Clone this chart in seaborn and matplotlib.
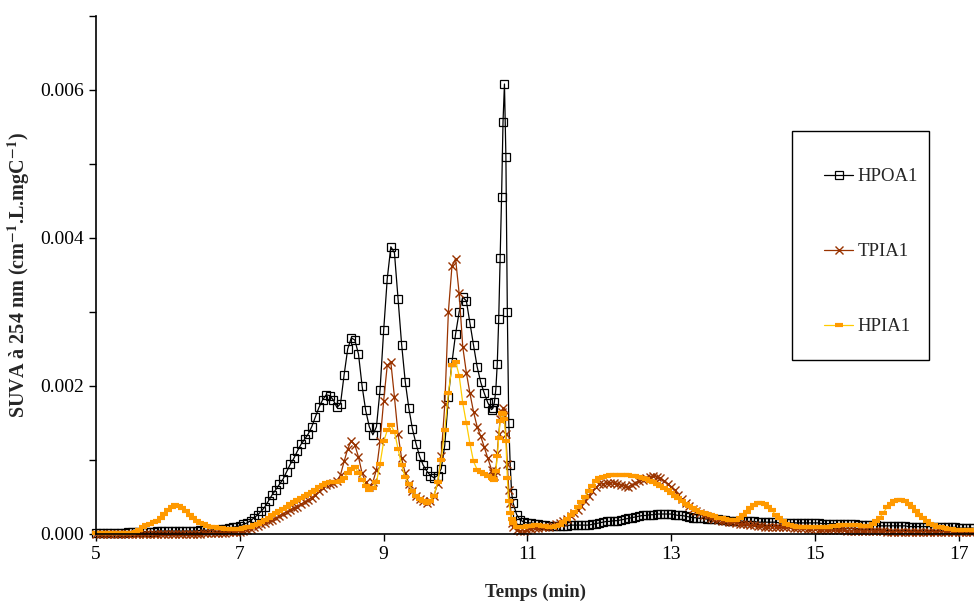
import numpy as np
import pandas as pd
import seaborn as sns
import matplotlib.pyplot as plt
from matplotlib.patches import Rectangle
from matplotlib.ticker import FormatStrFormatter

# sampling times (min)
time_min = [
    5.00, 5.05, 5.10, 5.15, 5.20, 5.25, 5.30, 5.35, 5.40, 5.45,
    5.50, 5.55, 5.60, 5.65, 5.70, 5.75, 5.80, 5.85, 5.90, 5.95,
    6.00, 6.05, 6.10, 6.15, 6.20, 6.25, 6.30, 6.35, 6.40, 6.45,
    6.50, 6.55, 6.60, 6.65, 6.70, 6.75, 6.80, 6.85, 6.90, 6.95,
    7.00, 7.05, 7.10, 7.15, 7.20, 7.25, 7.30, 7.35, 7.40, 7.45,
    7.50, 7.55, 7.60, 7.65, 7.70, 7.75, 7.80, 7.85, 7.90, 7.95,
    8.00, 8.05, 8.10, 8.15, 8.20, 8.25, 8.30, 8.35, 8.40, 8.45,
    8.50, 8.55, 8.60, 8.65, 8.70, 8.75, 8.80, 8.85, 8.90, 8.95,
    9.00, 9.05, 9.10, 9.15, 9.20, 9.25, 9.30, 9.35, 9.40, 9.45,
    9.50, 9.55, 9.60, 9.65, 9.70, 9.75, 9.80, 9.85, 9.90, 9.95,
    10.00, 10.05, 10.10, 10.15, 10.20, 10.25, 10.30, 10.35, 10.40, 10.45,
    10.50,
    10.52, 10.54, 10.56, 10.58, 10.60, 10.62, 10.64, 10.66, 10.68, 10.70,
    10.72, 10.74, 10.76, 10.78, 10.80,
    10.85, 10.90, 10.95, 11.00,
    11.05, 11.10, 11.15, 11.20, 11.25, 11.30, 11.35, 11.40, 11.45, 11.50,
    11.55, 11.60, 11.65, 11.70, 11.75, 11.80, 11.85, 11.90, 11.95, 12.00,
    12.05, 12.10, 12.15, 12.20, 12.25, 12.30, 12.35, 12.40, 12.45, 12.50,
    12.55, 12.60, 12.65, 12.70, 12.75, 12.80, 12.85, 12.90, 12.95, 13.00,
    13.05, 13.10, 13.15, 13.20, 13.25, 13.30, 13.35, 13.40, 13.45, 13.50,
    13.55, 13.60, 13.65, 13.70, 13.75, 13.80, 13.85, 13.90, 13.95, 14.00,
    14.05, 14.10, 14.15, 14.20, 14.25, 14.30, 14.35, 14.40, 14.45, 14.50,
    14.55, 14.60, 14.65, 14.70, 14.75, 14.80, 14.85, 14.90, 14.95, 15.00,
    15.05, 15.10, 15.15, 15.20, 15.25, 15.30, 15.35, 15.40, 15.45, 15.50,
    15.55, 15.60, 15.65, 15.70, 15.75, 15.80, 15.85, 15.90, 15.95, 16.00,
    16.05, 16.10, 16.15, 16.20, 16.25, 16.30, 16.35, 16.40, 16.45, 16.50,
    16.55, 16.60, 16.65, 16.70, 16.75, 16.80, 16.85, 16.90, 16.95, 17.00,
    17.05, 17.10, 17.15, 17.20,
]

hpoa1 = [
    0.00002, 0.00002, 0.00002, 0.00002, 0.00002, 0.00002, 0.00002, 0.00002, 0.00002, 0.00003,
    0.00003, 0.00003, 0.00003, 0.00003, 0.00003, 0.00003, 0.00003, 0.00004, 0.00004, 0.00004,
    0.00004, 0.00004, 0.00004, 0.00004, 0.00004, 0.00004, 0.00004, 0.00004, 0.00004, 0.00005,
    0.00005, 0.00005, 0.00005, 0.00006, 0.00006, 0.00007, 0.00007, 0.00008, 0.00009, 0.00010,
    0.00011, 0.00013, 0.00015, 0.00018, 0.00022, 0.00026, 0.00031, 0.00037, 0.00045, 0.00053,
    0.00060, 0.00067, 0.00074, 0.00084, 0.00094, 0.00102, 0.00112, 0.00121, 0.00128, 0.00135,
    0.00145, 0.00158, 0.00171, 0.00181, 0.00188, 0.00187, 0.00181, 0.00171, 0.00176, 0.00215,
    0.00250, 0.00265, 0.00262, 0.00243, 0.00200, 0.00167, 0.00145, 0.00134, 0.00145, 0.00195,
    0.00275, 0.00345, 0.00388, 0.00380, 0.00318, 0.00256, 0.00206, 0.00170, 0.00142, 0.00122,
    0.00105, 0.00093, 0.00085, 0.00079, 0.00076, 0.00079, 0.00088, 0.00120, 0.00185, 0.00232,
    0.00270, 0.00300, 0.00320, 0.00315, 0.00285, 0.00255, 0.00226, 0.00205, 0.00190, 0.00177,
    0.00168,
    0.00170, 0.00178, 0.00195, 0.00230, 0.00290, 0.00373, 0.00456, 0.00557, 0.00608, 0.00510,
    0.00300, 0.00150, 0.00093, 0.00055, 0.00042,
    0.00026, 0.00019, 0.00016, 0.00015,
    0.00015, 0.00014, 0.00013, 0.00012, 0.00012, 0.00011, 0.00011, 0.00011, 0.00011, 0.00011,
    0.00011, 0.00012, 0.00012, 0.00012, 0.00012, 0.00012, 0.00012, 0.00013, 0.00014, 0.00015,
    0.00016, 0.00017, 0.00017, 0.00018, 0.00018, 0.00019, 0.00020, 0.00021, 0.00022, 0.00023,
    0.00024, 0.00025, 0.00025, 0.00026, 0.00026, 0.00027, 0.00027, 0.00027, 0.00027, 0.00027,
    0.00026, 0.00025, 0.00025, 0.00024, 0.00023, 0.00022, 0.00022, 0.00021, 0.00021, 0.00020,
    0.00020, 0.00020, 0.00020, 0.00019, 0.00019, 0.00018, 0.00018, 0.00018, 0.00018, 0.00017,
    0.00017, 0.00017, 0.00017, 0.00016, 0.00016, 0.00016, 0.00016, 0.00016, 0.00016, 0.00015,
    0.00015, 0.00015, 0.00015, 0.00015, 0.00015, 0.00015, 0.00015, 0.00015, 0.00015, 0.00015,
    0.00015, 0.00014, 0.00014, 0.00014, 0.00014, 0.00014, 0.00013, 0.00013, 0.00013, 0.00013,
    0.00013, 0.00012, 0.00012, 0.00012, 0.00012, 0.00012, 0.00012, 0.00011, 0.00011, 0.00011,
    0.00011, 0.00011, 0.00011, 0.00011, 0.00011, 0.00010, 0.00010, 0.00010, 0.00010, 0.00010,
    0.00010, 0.00010, 0.00010, 0.00009, 0.00009, 0.00009, 0.00009, 0.00009, 0.00009, 0.00008,
    0.00008, 0.00008, 0.00008, 0.00008,
]

tpia1 = [
    0.0, 0.0, 0.0, 0.0, 0.0, 0.0, 0.0, 0.0, 0.0, 0.0,
    0.0, 0.0, 0.0, 0.0, 0.0, 0.0, 0.0, 0.0, 0.0, 0.0,
    0.0, 0.0, 0.0, 0.0, 0.0, 0.0, 0.0, 0.0, 0.0, 0.0,
    0.00001, 0.00001, 0.00001, 0.00001, 0.00002, 0.00002, 0.00002, 0.00003, 0.00003, 0.00003,
    0.00003, 0.00004, 0.00005, 0.00007, 0.00009, 0.00011, 0.00013, 0.00015, 0.00017, 0.00019,
    0.00021, 0.00024, 0.00027, 0.00030, 0.00032, 0.00035, 0.00037, 0.00040, 0.00043, 0.00046,
    0.00049, 0.00053, 0.00058, 0.00062, 0.00066, 0.00068, 0.00069, 0.00071, 0.00080, 0.00098,
    0.00115, 0.00126, 0.00120, 0.00104, 0.00082, 0.00070, 0.00064, 0.00070, 0.00087, 0.00125,
    0.00180, 0.00228, 0.00232, 0.00185, 0.00135, 0.00102, 0.00082, 0.00068, 0.00058, 0.00051,
    0.00047, 0.00044, 0.00042, 0.00045, 0.00052, 0.00068, 0.00105, 0.00175, 0.00300, 0.00362,
    0.00372, 0.00325, 0.00253, 0.00218, 0.00190, 0.00165, 0.00145, 0.00132, 0.00117, 0.00102,
    0.00087,
    0.00082, 0.00078, 0.00085, 0.00110, 0.00135, 0.00155, 0.00165, 0.00170, 0.00160, 0.00135,
    0.00095, 0.00060, 0.00042, 0.00015, 0.00010,
    0.00005, 0.00004, 0.00004, 0.00005,
    0.00007, 0.00008, 0.00008, 0.00009, 0.00009, 0.00010, 0.00011, 0.00013, 0.00015, 0.00017,
    0.00020, 0.00024, 0.00028, 0.00032, 0.00038, 0.00044, 0.00051, 0.00058, 0.00063, 0.00067,
    0.00068, 0.00069, 0.00069, 0.00069, 0.00068, 0.00066, 0.00065, 0.00064, 0.00066, 0.00069,
    0.00071, 0.00073, 0.00075, 0.00077, 0.00078, 0.00077, 0.00075, 0.00072, 0.00068, 0.00064,
    0.00059, 0.00053, 0.00047, 0.00042, 0.00038, 0.00034, 0.00031, 0.00028, 0.00026, 0.00024,
    0.00022, 0.00020, 0.00019, 0.00018, 0.00017, 0.00016, 0.00016, 0.00015, 0.00014, 0.00013,
    0.00013, 0.00012, 0.00012, 0.00011, 0.00011, 0.00010, 0.00010, 0.00010, 0.00010, 0.00009,
    0.00009, 0.00009, 0.00009, 0.00008, 0.00008, 0.00008, 0.00008, 0.00007, 0.00007, 0.00007,
    0.00006, 0.00006, 0.00005, 0.00005, 0.00005, 0.00005, 0.00005, 0.00005, 0.00004, 0.00004,
    0.00004, 0.00004, 0.00004, 0.00004, 0.00004, 0.00004, 0.00004, 0.00004, 0.00004, 0.00003,
    0.00003, 0.00003, 0.00003, 0.00003, 0.00003, 0.00003, 0.00003, 0.00003, 0.00003, 0.00003,
    0.00003, 0.00003, 0.00003, 0.00003, 0.00003, 0.00003, 0.00003, 0.00003, 0.00003, 0.00003,
    0.00003, 0.00003, 0.00003, 0.00003,
]

hpia1 = [
    0.00001, 0.00001, 0.00001, 0.00001, 0.00001, 0.00001, 0.00001, 0.00001, 0.00001, 0.00001,
    0.00001, 0.00003, 0.00006, 0.00009, 0.00012, 0.00014, 0.00016, 0.00018, 0.00022, 0.00027,
    0.00033, 0.00037, 0.00039, 0.00038, 0.00035, 0.00031, 0.00026, 0.00022, 0.00018, 0.00015,
    0.00013, 0.00011, 0.00010, 0.00009, 0.00008, 0.00008, 0.00007, 0.00007, 0.00007, 0.00007,
    0.00007, 0.00008, 0.00009, 0.00010, 0.00012, 0.00014, 0.00016, 0.00019, 0.00022, 0.00025,
    0.00028, 0.00031, 0.00034, 0.00037, 0.00040, 0.00043, 0.00046, 0.00049, 0.00051, 0.00054,
    0.00057, 0.00060, 0.00063, 0.00066, 0.00069, 0.00070, 0.00070, 0.00070, 0.00071, 0.00076,
    0.00082, 0.00088, 0.00090, 0.00083, 0.00073, 0.00065, 0.00060, 0.00062, 0.00070, 0.00095,
    0.00125, 0.00140, 0.00147, 0.00138, 0.00115, 0.00093, 0.00077, 0.00067, 0.00058, 0.00051,
    0.00047, 0.00044, 0.00042, 0.00045, 0.00052, 0.00070, 0.00100, 0.00140, 0.00190, 0.00228,
    0.00233, 0.00214, 0.00177, 0.00150, 0.00122, 0.00098, 0.00087, 0.00084, 0.00081, 0.00078,
    0.00076,
    0.00074, 0.00073, 0.00085, 0.00105, 0.00130, 0.00152, 0.00164, 0.00162, 0.00155, 0.00125,
    0.00075, 0.00045, 0.00028, 0.00020, 0.00015,
    0.00010, 0.00010, 0.00010, 0.00011,
    0.00011, 0.00012, 0.00012, 0.00011, 0.00011, 0.00010, 0.00010, 0.00011, 0.00012, 0.00016,
    0.00020, 0.00025, 0.00030, 0.00036, 0.00043, 0.00050, 0.00058, 0.00065, 0.00071, 0.00075,
    0.00077, 0.00079, 0.00080, 0.00080, 0.00080, 0.00080, 0.00080, 0.00080, 0.00079, 0.00078,
    0.00077, 0.00075, 0.00074, 0.00072, 0.00070, 0.00068, 0.00065, 0.00062, 0.00059, 0.00055,
    0.00052, 0.00048, 0.00045, 0.00041, 0.00038, 0.00035, 0.00032, 0.00030, 0.00028, 0.00027,
    0.00025, 0.00024, 0.00022, 0.00021, 0.00020, 0.00019, 0.00019, 0.00019, 0.00021, 0.00025,
    0.00030, 0.00035, 0.00039, 0.00042, 0.00042, 0.00040, 0.00036, 0.00032, 0.00026, 0.00021,
    0.00017, 0.00014, 0.00012, 0.00011, 0.00010, 0.00010, 0.00010, 0.00010, 0.00010, 0.00010,
    0.00010, 0.00010, 0.00010, 0.00010, 0.00011, 0.00011, 0.00012, 0.00012, 0.00012, 0.00012,
    0.00012, 0.00012, 0.00011, 0.00011, 0.00011, 0.00013, 0.00017, 0.00022, 0.00029, 0.00036,
    0.00041, 0.00044, 0.00046, 0.00046, 0.00044, 0.00040, 0.00036, 0.00031, 0.00026, 0.00021,
    0.00017, 0.00014, 0.00012, 0.00010, 0.00009, 0.00008, 0.00007, 0.00007, 0.00006, 0.00006,
    0.00005, 0.00005, 0.00005, 0.00005,
]

x_ticks = [5, 7, 9, 11, 13, 15, 17]
y_major = [0.000, 0.002, 0.004, 0.006]
y_minor = [0.001, 0.003, 0.005, 0.007]

assert len(time_min) == len(hpoa1) == len(tpia1) == len(hpia1)

df = pd.DataFrame({'Temps': time_min, 'HPOA1': hpoa1,
                   'TPIA1': tpia1, 'HPIA1': hpia1})

sns.set_style("ticks")
plt.rcParams['font.family'] = ['Liberation Serif', 'DejaVu Serif']
plt.rcParams['mathtext.fontset'] = 'stix'

fig = plt.figure(figsize=(9.74, 6.01), dpi=100)
ax = fig.add_axes([0.0986, 0.1115, 0.9014, 0.862])

sns.lineplot(data=df, x='Temps', y='HPOA1', ax=ax, errorbar=None,
             color='black', lw=0.9, marker='s', ms=5.5, mfc='none',
             mec='black', mew=0.9, label='HPOA1')
sns.lineplot(data=df, x='Temps', y='TPIA1', ax=ax, errorbar=None,
             color='#993300', lw=0.9, marker='x', ms=5.5,
             mec='#993300', mew=1.0, label='TPIA1')
sns.lineplot(data=df, x='Temps', y='HPIA1', ax=ax, errorbar=None,
             color='#FFCC00', lw=0.9, marker='_', ms=6,
             mec='#FF9900', mew=3, label='HPIA1')

for line in ax.lines:
    line.set_clip_on(False)

ax.set_xlim(5, 17.21)
ax.set_ylim(0, 0.007)
ax.set_xticks(x_ticks)
ax.set_yticks(y_major)
ax.set_yticks(y_minor, minor=True)
ax.yaxis.set_major_formatter(FormatStrFormatter('%.3f'))
ax.tick_params(which='both', direction='out', length=5, width=1,
               color='black', labelsize=14, labelcolor='black')

sns.despine(ax=ax)
for s in ['left', 'bottom']:
    ax.spines[s].set_color('black')
    ax.spines[s].set_linewidth(1.2)

ax.set_xlabel('Temps (min)', fontsize=13.5, fontweight='bold', labelpad=15)
ax.set_ylabel(r'SUVA à 254 nm (cm$^{\mathbf{-1}}$.L.mgC$^{\mathbf{-1}}$)',
              fontsize=14.5, fontweight='bold', labelpad=6)

# legend box drawn on its own, entries placed inside it
ax.add_patch(Rectangle((0.7927, 0.336), 0.156, 0.442, transform=ax.transAxes,
                       facecolor='white', edgecolor='black', lw=1.0,
                       zorder=4, clip_on=False))
leg = ax.legend(loc='upper left', bbox_to_anchor=(0.8292, 0.706),
                frameon=False, fontsize=13.5, labelspacing=3.08,
                borderpad=0, handlelength=1.55, handletextpad=0.25,
                borderaxespad=0)
leg.set_zorder(5)

fig.savefig('out.png', dpi=100)
